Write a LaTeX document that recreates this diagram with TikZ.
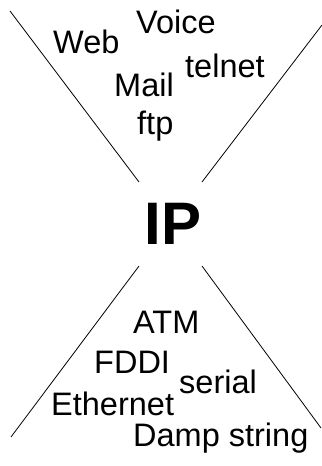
\documentclass[tikz,border=0pt]{standalone}
\usepackage{fontspec}
\setmainfont{Liberation Sans}
\usetikzlibrary{positioning}

\tikzset{
  proto/.style={inner sep=0pt, anchor=base west, font=\fontsize{32.5bp}{38bp}\selectfont},
  funnel/.style={line width=0.8bp, black}
}

\begin{document}
\begin{tikzpicture}[x=1bp, y=-1bp]
  \useasboundingbox (0,0) rectangle (321,466);

  % Hourglass corners
  \coordinate (tl) at (10,11);
  \coordinate (tr) at (322,25);
  \coordinate (ml) at (139,182);
  \coordinate (mr) at (202,182);
  \coordinate (nl) at (139,266);
  \coordinate (nr) at (202,266);
  \coordinate (bl) at (11,437);
  \coordinate (br) at (321,428);

  % Applications on top
  \node[proto] (web) at (53,54) {Web};
  \node[proto] (voice) at (136,34) {Voice};
  \node[proto] (telnet) at (185,78) {telnet};
  \node[proto] (mail) at (114,97) {Mail};
  \node[proto] (ftp) at (137,135) {ftp};

  % The waist
  \node[inner sep=0pt, font=\fontsize{60bp}{70bp}\selectfont\bfseries] (ip) at (173,224) {IP};

  % Networks below
  \node[proto] (atm) at (133,333) {ATM};
  \node[proto] (fddi) at (94,373) {FDDI};
  \node[proto] (serial) at (179,393) {serial};
  \node[proto] (ether) at (51,415) {Ethernet};
  \node[proto] (damp) at (133,446) {Damp string};

  % Funnel lines
  \draw[funnel] (tl) -- (ml);
  \draw[funnel] (tr) -- (mr);
  \draw[funnel] (nl) -- (bl);
  \draw[funnel] (nr) -- (br);
\end{tikzpicture}
\end{document}
